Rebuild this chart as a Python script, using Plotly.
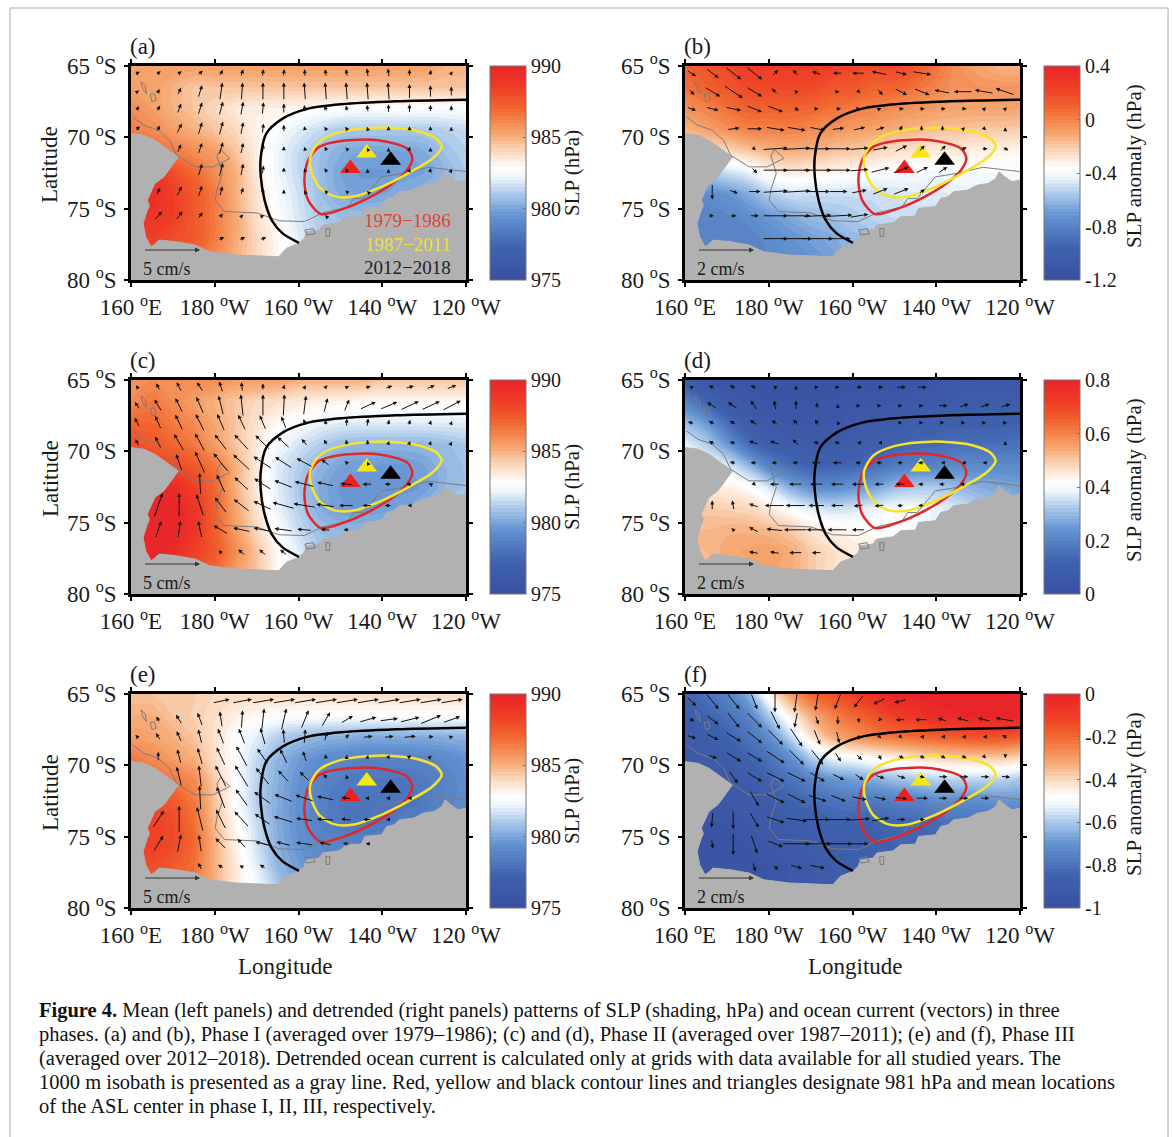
import plotly.graph_objects as go

W, H = 1173, 1137
SERIF = "Liberation Serif"

LON = [160, 165, 170, 175, 180, 185, 190, 195, 200, 205, 210, 215, 220, 225, 230, 235, 240]
LAT = [-65, -66.5, -68, -69.5, -71, -72.5, -74, -75.5, -77, -78.5, -80]

Z_A = [
 [985.5,985.5,985.5,985.5,985.5,985.5,985.5,985.5,985.5,985.5,985.5,985.5,985.5,985.5,985.5,985,985],
 [985.5,985.5,985,984.5,984.5,984.5,984.5,984.5,984.5,984.5,984.5,984.5,984.5,984.5,984.5,984.5,984.5],
 [986,985.5,985,984.5,984,983.5,983.3,983.2,983,982.8,982.7,982.6,982.6,982.7,982.6,982.6,982.6],
 [986.5,986,985.5,985,984.5,984,983.2,982.6,982,981.5,981,981,981,981,981,981.2,981.5],
 [987.5,987,986.5,986,985.5,984.5,983.3,982.3,981.5,980.8,980.3,980,980,980,980.2,980.8,981.2],
 [989,989,988,987,986,985,983.5,982.3,981.5,980.7,980,979.7,979.7,979.8,980,980.5,981],
 [989.5,989.5,988.5,987.5,986.5,985,983.7,982.5,981.7,980.8,980.2,979.9,980,980.3,980.5,981,981],
 [989,989,988.5,987.5,986.5,985.2,983.8,982.7,981.8,981,980.7,980.7,980.8,981,981,981,981],
 [988.5,988.5,988,987.5,986.5,985.2,984,983,982,981.3,981,981,981,981,981,981,981],
 [988,988,987.5,987,986,985,984,983,982,981.5,981,981,981,981,981,981,981],
 [988,988,987.5,987,986,985,984,983,982,981.5,981,981,981,981,981,981,981],
]
Z_C = [
 [986,986,986,986,986,985.5,985.5,985.5,985,985,985,985,984.5,984.5,984.5,984.5,984.5],
 [986,986.5,986,985.5,985,984.5,984,983.8,983.5,983.3,983.2,983,983,983,983,983,983],
 [987,987,986.5,986,985.2,984.5,983.7,983,982.5,982.2,982,982,982,982,982,982,982],
 [988,987.5,987,986.5,985.5,984.5,983.5,982.5,981.8,981.2,980.7,980.5,980.5,980.5,980.5,980.7,981],
 [989,988.5,988,987.5,986.5,985,983.5,982,981.2,980.5,980,979.8,979.7,979.7,980,980.5,980.8],
 [990,990,989.5,988.5,987,985,983.5,982,981,980.2,979.7,979.5,979.5,979.6,979.8,980.5,980.8],
 [990,990,990,989,987.2,985.3,983.7,982.2,981.2,980.3,979.8,979.7,979.8,980,980.5,981,981],
 [990,990,990,989,987.3,985.5,984,982.7,981.5,980.7,980.5,980.5,980.7,981,981,981,981],
 [990,990,989.5,988.5,987.5,986,984.5,983,982,981,981,981,981,981,981,981,981],
 [989.5,989.5,989,988,987,985.5,984.5,983,982,981,981,981,981,981,981,981,981],
 [989.5,989.5,989,988,987,985.5,984.5,983,982,981,981,981,981,981,981,981,981],
]
Z_E = [
 [984.5,984.5,984.5,984.3,984,984,984,984,984,984,984,984,984,984,984,984,984],
 [985,985,984.5,984.2,983.8,983.3,983,982.8,982.7,982.7,982.7,982.7,982.7,982.7,982.7,982.7,982.7],
 [985.5,985.3,985,984.5,983.7,982.8,982,981.2,980.8,980.5,980.4,980.2,980.2,980.2,980.2,980.3,980.4],
 [986.5,986,985.5,985,983.8,982.7,981.5,980.5,979.8,979.3,979,978.8,978.8,978.8,978.9,979.1,979.5],
 [987.5,987,986.5,986,984.3,982.7,981.3,980.3,979.5,978.9,978.5,978.3,978.2,978.2,978.4,978.8,979.2],
 [988,988,987.5,986.5,984.5,982.7,981.2,980.2,979.4,978.7,978.2,978,978,978.1,978.3,978.8,979.2],
 [988.5,988.5,988,986.8,984.7,983,981.5,980.2,979.4,978.7,978.3,978.1,978.2,978.4,978.7,979,979.3],
 [988.5,988.5,988,987,985,983.2,981.7,980.3,979.5,979,978.8,978.8,979,979,979,979,979],
 [988,988,987.5,986.8,985,983.5,982,980.5,979.8,979.2,979,979,979,979,979,979,979],
 [987.5,987.5,987,986.5,985,983.5,982.5,981,980,979.5,979,979,979,979,979,979,979],
 [987.5,987.5,987,986.5,985,983.5,982.5,981,980,979.5,979,979,979,979,979,979,979],
]
Z_B = [
 [.1,.15,.2,.25,.25,.25,.25,.25,.2,.2,.2,.15,.05,-.05,-.1,-.15,-.15],
 [.05,.1,.15,.2,.2,.2,.2,.15,.15,.1,.1,.05,0,-.05,-.05,-.05,-.05],
 [-.05,0,.05,.1,.1,.1,.08,.05,.02,0,-.03,-.06,-.08,-.1,-.1,-.1,-.1],
 [-.15,-.1,-.05,0,0,0,-.02,-.05,-.08,-.1,-.13,-.15,-.18,-.18,-.2,-.2,-.22],
 [-.3,-.28,-.25,-.2,-.15,-.13,-.15,-.18,-.2,-.23,-.26,-.28,-.3,-.3,-.32,-.33,-.34],
 [-.55,-.55,-.5,-.45,-.35,-.3,-.32,-.34,-.36,-.38,-.4,-.4,-.42,-.4,-.4,-.4,-.4],
 [-.75,-.75,-.72,-.65,-.55,-.5,-.5,-.5,-.5,-.5,-.48,-.46,-.46,-.45,-.45,-.45,-.45],
 [-.78,-.8,-.78,-.75,-.7,-.65,-.6,-.58,-.55,-.52,-.5,-.5,-.5,-.5,-.5,-.5,-.5],
 [-.8,-.8,-.8,-.8,-.75,-.72,-.68,-.65,-.6,-.58,-.55,-.55,-.55,-.55,-.55,-.55,-.55],
 [-.8,-.8,-.8,-.8,-.78,-.75,-.72,-.68,-.62,-.6,-.55,-.55,-.55,-.55,-.55,-.55,-.55],
 [-.8,-.8,-.8,-.8,-.78,-.75,-.72,-.68,-.62,-.6,-.55,-.55,-.55,-.55,-.55,-.55,-.55],
]
Z_D = [
 [.1,.05,.03,.03,.03,.03,.03,.03,.03,.03,.03,.03,.04,.05,.05,.05,.05],
 [.2,.12,.07,.05,.04,.04,.04,.04,.05,.05,.05,.06,.07,.08,.08,.08,.08],
 [.3,.25,.15,.08,.06,.05,.05,.05,.06,.07,.08,.09,.1,.11,.11,.11,.12],
 [.38,.33,.25,.15,.1,.08,.07,.07,.08,.1,.12,.13,.14,.15,.15,.15,.16],
 [.42,.4,.37,.3,.2,.15,.12,.12,.13,.15,.18,.2,.2,.22,.22,.22,.22],
 [.46,.45,.44,.42,.36,.28,.23,.22,.24,.26,.3,.32,.32,.3,.28,.27,.26],
 [.49,.5,.49,.48,.45,.41,.37,.35,.36,.38,.4,.4,.38,.36,.33,.3,.28],
 [.52,.52,.53,.53,.52,.5,.46,.44,.43,.42,.41,.4,.38,.36,.33,.3,.28],
 [.52,.52,.54,.55,.56,.54,.5,.47,.45,.44,.42,.4,.38,.36,.33,.3,.28],
 [.51,.51,.53,.54,.55,.54,.5,.47,.45,.44,.42,.4,.38,.36,.33,.3,.28],
 [.51,.51,.53,.54,.55,.54,.5,.47,.45,.44,.42,.4,.38,.36,.33,.3,.28],
]
Z_F = [
 [-.85,-.8,-.75,-.65,-.45,-.3,-.2,-.15,-.1,-.05,0,0,0,0,0,0,0],
 [-.9,-.85,-.8,-.75,-.6,-.45,-.33,-.25,-.2,-.15,-.1,-.07,-.03,-.02,0,0,0],
 [-.9,-.9,-.85,-.8,-.72,-.58,-.43,-.33,-.28,-.25,-.22,-.2,-.18,-.17,-.15,-.15,-.17],
 [-.93,-.9,-.9,-.85,-.8,-.72,-.6,-.52,-.5,-.47,-.45,-.42,-.4,-.38,-.38,-.38,-.4],
 [-.93,-.93,-.92,-.9,-.85,-.8,-.75,-.7,-.68,-.65,-.62,-.6,-.58,-.58,-.58,-.58,-.6],
 [-.93,-.93,-.93,-.92,-.9,-.85,-.82,-.8,-.78,-.78,-.76,-.75,-.72,-.72,-.72,-.7,-.7],
 [-.95,-.95,-.95,-.93,-.92,-.9,-.88,-.86,-.85,-.85,-.84,-.83,-.82,-.8,-.8,-.8,-.8],
 [-.95,-.95,-.95,-.95,-.93,-.92,-.9,-.88,-.87,-.87,-.85,-.85,-.85,-.85,-.85,-.85,-.85],
 [-.95,-.95,-.95,-.95,-.95,-.93,-.92,-.9,-.88,-.87,-.85,-.85,-.85,-.85,-.85,-.85,-.85],
 [-.95,-.95,-.95,-.95,-.95,-.93,-.92,-.9,-.88,-.87,-.85,-.85,-.85,-.85,-.85,-.85,-.85],
 [-.95,-.95,-.95,-.95,-.95,-.93,-.92,-.9,-.88,-.87,-.85,-.85,-.85,-.85,-.85,-.85,-.85],
]

ARROW_LON = [161.5,166.5,171.5,176.5,181.5,186.5,191.5,196.5,201.5,206.5,211.5,216.5,221.5,226.5,231.5,236.5]
ARROW_LAT = [-65.5,-66.8,-68,-69.4,-70.8,-72.3,-73.8,-75.5,-77.1]

# current components, mm/s
U_A = [[4,4,4,4,3,2,1,1,0,-1,-1,-1,-1,0,1,2],[3,2,3,3,2,1,0,0,-1,-1,-1,-1,-1,0,0,0],[3,3,3,3,3,2,1,0,-1,-2,-1,-1,0,0,0,0],
 [4,3,4,3,3,2,1,0,-1,-2,-2,-1,0,0,0,0],[0,0,3,3,3,2,1,0,-1,-2,-2,-1,0,1,0,0],[0,0,0,3,3,2,1,0,-1,-2,-1,0,0,1,1,1],
 [0,3,4,3,2,2,1,0,-1,-2,-2,-1,0,0,0,0],[0,6,5,4,3,2,2,1,0,-1,0,0,0,0,0,0],[0,0,0,0,5,5,5,0,0,0,0,0,0,0,0,0]]
V_A = [[2,3,3,4,5,6,6,6,6,6,6,7,7,6,5,3],[2,4,6,10,14,14,14,14,14,14,14,14,14,12,10,8],[4,5,8,10,11,11,10,8,6,5,5,6,7,7,6,5],
 [4,5,8,10,11,10,8,6,4,3,3,3,4,4,4,3],[0,0,7,9,10,9,7,4,3,3,2,2,2,3,2,1],[0,0,0,10,11,10,7,4,3,3,3,2,2,3,3,2],
 [0,6,8,9,8,6,5,3,2,2,2,1,1,1,0,0],[0,7,7,5,3,2,1,1,1,1,0,0,0,0,0,0],[0,0,0,0,2,2,2,0,0,0,0,0,0,0,0,0]]
U_B = [[3,4,5,5,2,-2,-3,-3,-4,-5,4,6,0,0,0,0],[2,5,6,5,-2,-1,0,1,1,2,4,5,-5,-6,-6,-6],[3,4,5,5,5,2,1,2,1,1,2,2,2,2,1,1],
 [0,0,4,5,6,6,5,4,4,3,1,0,0,1,1,0],[0,0,0,1,8,9,8,8,6,5,4,2,2,2,2,2],[0,0,0,2,8,9,9,8,6,6,5,4,3,0,0,0],
 [0,0,3,4,8,9,8,6,5,5,5,2,0,0,0,0],[0,1,2,3,8,9,9,9,6,0,0,0,0,0,0,0],[0,0,0,0,8,10,10,8,0,0,0,0,0,0,0,0]]
V_B = [[-2,-3,-4,-4,2,2,1,0,0,1,-1,-1,0,0,0,0],[-2,-3,-4,-3,2,1,0,0,-1,-2,-2,-2,1,0,1,2],[-1,-1,-1,-2,-2,-1,0,0,0,.5,0,0,0,0,1,1],
 [0,0,.5,0,-1,-1,-1,.5,1,1,2,2,2,1,-1,1],[0,0,0,-1,.5,.5,0,0,.5,1,2,2,2,1,0,-1],[0,0,0,-2,0,0,0,0,.5,1.5,2,2,2,0,0,0],
 [0,-5,-1,0,.5,.5,0,0,1,2,2,1.5,0,0,0,0],[0,0,0,0,0,0,.5,.5,1,0,0,0,0,0,0,0],[0,0,0,0,0,0,0,0,0,0,0,0,0,0,0,0]]
U_C = [[-2,-3,-4,-5,-3,-1,0,1,2,3,4,5,6,7,7,8],[-4,-6,-6,-6,-4,-2,0,1,2,3,4,13,14,15,15,15],[-4,-5,-6,-7,-6,-6,-5,-4,-2,-1,0,1,1,1,1,1],
 [-3,-5,-8,-8,-10,-12,-12,-10,-5,-3,-1,0,1,1,1,1],[0,0,-5,-8,-12,-14,-15,-14,-13,-7,-3,-1,0,1,1,0],[0,0,0,-1,-7,-12,-14,-15,-16,-14,-10,-8,-6,-5,-3,0],
 [0,7,0,-6,-10,-13,-15,-18,-18,-15,-12,-8,-6,-3,0,0],[0,5,2,-3,-12,-14,-15,-15,-12,-8,-5,0,0,0,0,0],[0,0,0,0,-4,-6,-6,-6,0,0,0,0,0,0,0,0]]
V_C = [[3,6,8,8,9,8,6,4,3,3,2,2,2,2,3,3],[6,10,12,14,16,18,18,18,16,12,10,6,6,7,7,8],[8,11,13,14,14,13,12,10,6,5,7,7,5,5,4,3],
 [6,10,14,15,13,13,12,9,6,5,5,5,3,3,3,2],[0,0,14,18,15,13,10,9,7,5,3,2,2,0,0,0],[0,0,0,18,15,11,9,6,4,3,1,0,0,0,1,0],
 [0,20,20,18,13,10,7,5,3,2,0,0,0,0,0,0],[0,14,14,14,7,3,3,2,1,1,0,0,0,0,0,0],[0,0,0,0,4,5,5,5,0,0,0,0,0,0,0,0]]
U_D = [[-1,-2,-2,-2,-1,0,1,1,2,2,3,3,0,0,0,0],[0,-3,-3,-2,-.5,0,0,0,1,1,1,1,3,3,3,3],[-2,-2,-2,-2.5,-2,-1.5,-1,-.5,0,0,1,1,1,1,1,1],
 [0,-2,-2,-3,-3,-2,-2,-2,-1,-1,0,0,0,0,0,0],[0,0,-2,-2,-2,-2,-3,-3,-2,-2,-2,-2,-1,-1,-1,0],[0,0,0,1,-3,-4,-4,-4,-4,-3,-3,-2,-2,-2,0,0],
 [0,0,-.5,-3,-6,-6,-5,-4,-3,-3,-2,-2,0,0,0,0],[0,0,-1,-3,-5,-7,-6,-6,-4,0,0,0,0,0,0,0],[0,0,0,-3,-3,-4,-3,0,0,0,0,0,0,0,0,0]]
V_D = [[1,1,1,1,1,1,0,0,0,0,0,0,0,0,0,0],[0,2,2,3,3,3,2,1,0,0,0,0,0,1,1,1],[.5,1,1,1.5,1.5,2,2,1,.5,.5,0,0,0,0,0,0],
 [0,1,.5,1,1,2,.5,.5,0,0,0,0,0,0,0,1],[0,0,.5,0,0,0,0,0,0,0,0,0,0,0,0,0],[0,0,0,-1,0,0,0,0,0,0,0,0,0,0,0,0],
 [0,3,3,1,0,0,0,0,-.3,-.3,-.3,0,0,0,0,0],[0,.5,1,1.5,.5,0,0,0,0,0,0,0,0,0,0,0],[0,0,0,.5,.5,0,0,0,0,0,0,0,0,0,0,0]]
U_E = [[0,0,0,0,14,16,18,18,18,18,18,18,18,18,18,18],[0,-3,-5,-4,-2,1,2,4,6,7,10,14,15,16,17,14],[-3,-4,-4,-3,-5,-5,-4,-1,1,2,4,8,8,10,5,3],
 [0,0,-3,-4,-7,-9,-9,-6,-3,-1,0,1,2,3,2,1],[0,0,-4,-2,-9,-11,-11,-9,-8,-4,-1,0,0,1,1,1],[0,0,0,-1,-7,-10,-14,-15,-15,-14,-8,-4,-4,-3,-2,1],
 [0,9,0,-5,-8,-12,-13,-16,-14,-14,-9,-7,-4,-2,0,0],[0,8,3,-2,-9,-7,-12,-12,-14,-10,-6,-3,0,0,0,0],[0,0,0,-3,-5,-4,-5,0,0,0,0,0,0,0,0,0]]
V_E = [[0,0,0,0,3,3,3,3,3,3,3,3,3,3,3,3],[0,5,8,11,13,15,18,18,15,12,6,4,2,4,7,5],[3,6,9,12,13,13,14,12,12,8,4,1,1,1,1,1],
 [0,8,12,14,15,17,13,12,9,4,3,3,3,2,2,1],[0,0,16,18,18,18,14,10,8,4,3,1,1,1,1,0],[0,0,0,20,18,14,10,6,5,3,1,0,0,0,0,0],
 [0,14,22,20,16,13,9,5,2,1,1,0,0,0,0,0],[0,13,15,14,9,8,3,3,2,2,1,0,0,0,0,0],[0,0,0,6,3,2,3,0,0,0,0,0,0,0,0,0]]
U_F = [[3,4,4,2,0,-1,-1,-2,-3,-4,-4,0,0,0,0,0],[2,4,4,5,3,-1,1,0,0,-1,-3,-4,-3,-4,-4,-6],[3,4,5,5,5,4,2,1,0,1,1,-1,-1,-1,-1,-2],
 [0,3,5,5,6,5,4,2,2,1,2,2,2,2,1,0],[0,0,3,5,6,6,5,4,3,3,3,2,3,3,3,3],[0,0,0,3,6,6,6,5,5,4,4,4,3,3,3,0],
 [0,-.5,0,3,6,7,8,8,7,6,3,2,0,0,0,0],[0,.5,0,2,5,9,9,9,6,0,0,0,0,0,0,0],[0,0,0,1,2,4,5,0,0,0,0,0,0,0,0,0]]
V_F = [[-3,-5,-5,-5,-7,-7,-6,-5,-4,-2,-1,0,0,0,0,0],[-1,-3,-5,-5,-6,-5,-3,-3,-2,-1,0,0,1,1,1,1],[-1,-2,-3,-4,-5,-6,-5,-4,-2,-1,-1,0,0,0,0,1],
 [0,-1,-3,-3,-4,-5,-5,-3,-2,-2,-1,-1,-1,-1,-1,-1],[0,0,-4,-3,-3,-3,-3,-2,-2,-1,-1,-.5,0,0,0,-.3],[0,0,0,-5,-3,-3,-2,-2,-1,-1,-.5,0,0,0,0,0],
 [0,-5,-6,-5,-2,-1,0,0,.5,1,0,0,0,0,0,0],[0,-3,-7,-6,-2,0,0,0,0,0,0,0,0,0,0,0],[0,0,0,-3,-2,-1,-1,0,0,0,0,0,0,0,0,0]]

LAND_LON = [160,163.05,165.7,168.7,171.3,169.6,167.85,165.7,163.9,164.4,163.9,162.9,163.5,164.8,165.6,166.7,170.9,175.3,178.8,184.9,195.3,197.1,200.1,201.4,201.9,204.9,205.8,209.7,211.5,215,215.8,219.8,221.1,222.8,224.1,227.6,229.8,232.4,234.2,235,236.4,238.1,240,240,160,160]
LAND_LAT = [-69.74,-69.85,-70.2,-70.8,-71.37,-72.07,-72.77,-73.23,-74.4,-74.8,-75.1,-76.03,-76.97,-77.67,-77.5,-77.2,-77.32,-77.55,-78.02,-78.25,-78.37,-77.78,-77.43,-77.08,-76.62,-76.5,-76.15,-75.99,-75.57,-75.52,-74.98,-74.87,-74.28,-74.17,-73.82,-73.7,-73.35,-73.23,-72.88,-72.42,-72.77,-73.12,-73,-80,-80,-69.74]
ISO_LON = [160.4,163.05,166.5,169.2,170.9,175.3,179.6,183.6,181.4,180.5,181.8,180.5,180.1,182.3,190.1,195.3,201.4,205.8,211.9,213.2,215.4,219.8,225,231.1,240]
ISO_LAT = [-68.57,-69.15,-69.5,-70.2,-71.25,-72.07,-72.07,-71.48,-70.85,-71.3,-72.53,-73.7,-74.4,-75.2,-75.3,-75.85,-75.9,-75.3,-74.87,-74.28,-74.3,-72.77,-72.53,-72.1,-72.4]
ISLE1_LON = [162.4,163.4,163.7,162.8,162.4]
ISLE1_LAT = [-66.1,-66.4,-66.95,-66.6,-66.1]
ISLE2_LON = [164.6,165.6,166,165,164.6]
ISLE2_LAT = [-67,-66.95,-67.4,-67.5,-67]
ISLE3_LON = [201.5,203.5,204,202,201.5]
ISLE3_LAT = [-76.5,-76.4,-76.75,-76.85,-76.5]
ISLE4_LON = [206.5,207.5,207.4,206.6,206.5]
ISLE4_LAT = [-76.4,-76.4,-76.95,-76.95,-76.4]

BLACK_LON = [200.1,196.2,193.6,191.9,191,191,192.3,196.2,202.3,210.2,223.3,240]
BLACK_LAT = [-77.39,-76.73,-75.8,-74.4,-72.77,-71.37,-69.74,-68.69,-67.99,-67.68,-67.47,-67.36]
RED_LON = [205.4,202.3,201.4,202.3,204.9,210.2,218.9,225.9,227.2,225.9,222.4,217.2,211,205.4]
RED_LAT = [-75.38,-74.4,-73,-71.6,-70.67,-70.25,-70.2,-70.78,-71.48,-72.3,-73.23,-74.17,-74.98,-75.38]
YEL_LON = [202.8,204.9,210.2,218.9,227.6,232.9,234.2,232,226.8,219.8,212.8,208.4,204.9,203,202.8]
YEL_LAT = [-71.37,-70.32,-69.62,-69.32,-69.5,-70.08,-70.67,-71.48,-72.42,-73.47,-74.17,-74.12,-73.47,-72.3,-71.37]
TRI_LON = [212.4, 216.3, 222]
TRI_LAT = [-72.18, -71.09, -71.6]
TRI_COL = ["#f0201c", "#f5e61a", "#000000"]

X_TICKS = [160, 180, 200, 220, 240]
X_LABELS = ["160 <sup>o</sup>E", "180 <sup>o</sup>W", "160 <sup>o</sup>W", "140 <sup>o</sup>W", "120 <sup>o</sup>W"]
Y_TICKS = [-65, -70, -75, -80]
Y_LABELS = ["65 <sup>o</sup>S", "70 <sup>o</sup>S", "75 <sup>o</sup>S", "80 <sup>o</sup>S"]
SLP_TICKS = [975, 980, 985, 990]

CAPTION = [
 "<b>Figure 4.</b> Mean (left panels) and detrended (right panels) patterns of SLP (shading, hPa) and ocean current (vectors) in three",
 "phases. (a) and (b), Phase I (averaged over 1979–1986); (c) and (d), Phase II (averaged over 1987–2011); (e) and (f), Phase III",
 "(averaged over 2012–2018). Detrended ocean current is calculated only at grids with data available for all studied years. The",
 "1000 m isobath is presented as a gray line. Red, yellow and black contour lines and triangles designate 981 hPa and mean locations",
 "of the ASL center in phase I, II, III, respectively.",
]

COLORS = [[0,"#3a50a2"],[.15,"#3f62ae"],[.3,"#6393d1"],[.4,"#a9c8ea"],[.48,"#eef5fb"],[.52,"#ffffff"],[.6,"#fbd9bf"],[.68,"#f6a872"],[.8,"#f1672f"],[.9,"#ee3d26"],[1,"#e8242a"]]
LAND = "#b1b1b1"
TXT = "#1a1a1a"

PANELS = [
 dict(tag="(a)", z=Z_A, u=U_A, v=V_A, left=131, top=66, rng=(975,990), ticks=SLP_TICKS, lab=None, title="SLP (hPa)", px=1.3, scale="5 cm/s"),
 dict(tag="(b)", z=Z_B, u=U_B, v=V_B, left=685, top=66, rng=(-1.2,.4), ticks=[-1.2,-.8,-.4,0,.4], lab=["-1.2","-0.8","-0.4","0","0.4"], title="SLP anomaly (hPa)", px=3.2, scale="2 cm/s"),
 dict(tag="(c)", z=Z_C, u=U_C, v=V_C, left=131, top=380, rng=(975,990), ticks=SLP_TICKS, lab=None, title="SLP (hPa)", px=1.25, scale="5 cm/s"),
 dict(tag="(d)", z=Z_D, u=U_D, v=V_D, left=685, top=380, rng=(0,.8), ticks=[0,.2,.4,.6,.8], lab=["0","0.2","0.4","0.6","0.8"], title="SLP anomaly (hPa)", px=3.4, scale="2 cm/s"),
 dict(tag="(e)", z=Z_E, u=U_E, v=V_E, left=131, top=694, rng=(975,990), ticks=SLP_TICKS, lab=None, title="SLP (hPa)", px=1.25, scale="5 cm/s"),
 dict(tag="(f)", z=Z_F, u=U_F, v=V_F, left=685, top=694, rng=(-1,0), ticks=[-1,-.8,-.6,-.4,-.2,0], lab=["-1","-0.8","-0.6","-0.4","-0.2","0"], title="SLP anomaly (hPa)", px=3.2, scale="2 cm/s"),
]
PW, PH = 335, 214
PX_LON, PX_LAT = PW / 80, PH / 15

fig = go.Figure()
anns, layout_axes = [], {}

def paper(x, y):
    return x / W, 1 - y / H

def label(x, y, text, size=22, angle=0, anchor="center"):
    px_, py_ = paper(x, y)
    anns.append(dict(x=px_, y=py_, xref="paper", yref="paper", xanchor=anchor, yanchor="middle", text=text, textangle=angle, showarrow=False,
                     font=dict(family=SERIF, size=size, color=TXT)))

for i, p in enumerate(PANELS, 1):
    s = "" if i == 1 else str(i)
    xa, ya = "x" + s, "y" + s
    L, T = p["left"], p["top"]
    lo, hi = p["rng"]
    right_col = i % 2 == 0
    layout_axes["xaxis" + s] = dict(domain=[L / W, (L + PW) / W], range=[160, 240], anchor=ya, tickvals=X_TICKS, ticktext=X_LABELS,
        ticks="outside", ticklen=4, tickwidth=2, tickcolor="#000", showline=True, linewidth=2.5, linecolor="#000", mirror="ticks",
        showgrid=False, zeroline=False, tickfont=dict(family=SERIF, size=23, color=TXT), ticklabelstandoff=1)
    layout_axes["yaxis" + s] = dict(domain=[1 - (T + PH) / H, 1 - T / H], range=[-80, -65], anchor=xa, tickvals=Y_TICKS, ticktext=Y_LABELS,
        ticks="outside", ticklen=4, tickwidth=2, tickcolor="#000", showline=True, linewidth=2.5, linecolor="#000", mirror="ticks",
        showgrid=False, zeroline=False, tickfont=dict(family=SERIF, size=23, color=TXT), ticklabelstandoff=3)
    cb = dict(x=(L + 359) / W, xanchor="left", y=1 - T / H, yanchor="top", lenmode="pixels", len=PH, thicknessmode="pixels", thickness=36,
        xpad=0, ypad=0, outlinecolor="#777", outlinewidth=1, ticks="inside", ticklen=3, tickcolor="#777", tickvals=p["ticks"],
        tickfont=dict(family=SERIF, size=20, color=TXT))
    if p["lab"]:
        cb["ticktext"] = p["lab"]
    fig.add_trace(go.Contour(x=LON, y=LAT, z=p["z"], xaxis=xa, yaxis=ya, colorscale=COLORS, zmin=lo, zmax=hi, autocontour=False,
        contours=dict(start=lo, end=hi, size=(hi - lo) / 60, coloring="fill", showlines=False), line=dict(width=0, smoothing=1), colorbar=cb, hoverinfo="skip"))
    fig.add_trace(go.Scatter(x=LAND_LON, y=LAND_LAT, xaxis=xa, yaxis=ya, mode="lines", fill="toself", fillcolor=LAND, line=dict(color=LAND, width=1), hoverinfo="skip"))
    for lx, ly in [(ISO_LON, ISO_LAT), (ISLE1_LON, ISLE1_LAT), (ISLE2_LON, ISLE2_LAT), (ISLE3_LON, ISLE3_LAT), (ISLE4_LON, ISLE4_LAT)]:
        fig.add_trace(go.Scatter(x=lx, y=ly, xaxis=xa, yaxis=ya, mode="lines", line=dict(color="#7c7c7c", width=1), hoverinfo="skip"))
    for lx, ly, col in [(BLACK_LON, BLACK_LAT, "#000000"), (RED_LON, RED_LAT, "#e0282a"), (YEL_LON, YEL_LAT, "#f5e42a")]:
        fig.add_trace(go.Scatter(x=lx, y=ly, xaxis=xa, yaxis=ya, mode="lines", line=dict(color=col, width=2.5, shape="spline", smoothing=0.8), hoverinfo="skip"))
    fig.add_trace(go.Scatter(x=TRI_LON, y=TRI_LAT, xaxis=xa, yaxis=ya, mode="markers", marker=dict(symbol="triangle-up", size=18, color=TRI_COL, line=dict(width=0)), hoverinfo="skip"))

    k = p["px"]
    for r, la in enumerate(ARROW_LAT):
        for c, lon in enumerate(ARROW_LON):
            u, v = p["u"][r][c], p["v"][r][c]
            if u == 0 and v == 0:
                continue
            dlon, dlat = u * k / PX_LON / 2, v * k / PX_LAT / 2
            anns.append(dict(x=lon + dlon, y=la + dlat, ax=lon - dlon, ay=la - dlat, xref=xa, yref=ya, axref=xa, ayref=ya, text="", showarrow=True,
                arrowhead=2, arrowsize=0.8, arrowwidth=1, arrowcolor="#111"))
    anns.append(dict(x=176.5, y=-77.9, ax=163, ay=-77.9, xref=xa, yref=ya, axref=xa, ayref=ya, text="", showarrow=True, arrowhead=2, arrowsize=1, arrowwidth=1, arrowcolor="#333"))
    anns.append(dict(x=162.3, y=-79.2, xref=xa, yref=ya, xanchor="left", yanchor="middle", text=p["scale"], showarrow=False, font=dict(family=SERIF, size=18, color=TXT)))
    label(L - 3, T - 20, p["tag"], size=23, anchor="left")
    label(L + (449 if right_col else 441), T + 100 if right_col else T + 107, p["title"], size=21, angle=-90)
    if not right_col:
        label(50, T + 99, "Latitude", size=23, angle=-90)
    if i >= 5:
        label(L + (170 if right_col else 154), 966, "Longitude", size=23)

for txt, la, col in [("1979−1986", -75.85, "#e0433a"), ("1987−2011", -77.5, "#ece13c"), ("2012−2018", -79.15, "#222222")]:
    anns.append(dict(x=237, y=la, xref="x", yref="y", xanchor="right", text=txt, showarrow=False, font=dict(family=SERIF, size=19, color=col)))

for n, line in enumerate(CAPTION):
    px_, py_ = paper(37, 1010 + n * 24)
    anns.append(dict(x=px_, y=py_, xref="paper", yref="paper", xanchor="left", yanchor="middle", text=line, showarrow=False, font=dict(family=SERIF, size=20.5, color="#111")))

x0, y0 = paper(10, 8)
x1, y1 = paper(1168, 1137)
shapes = [dict(type="line", xref="paper", yref="paper", x0=a, y0=b, x1=c, y1=d, line=dict(color="#c8c8c8", width=1.5))
          for a, b, c, d in [(x0, y0, x1, y0), (x0, y0, x0, y1), (x1, y0, x1, y1)]]

fig.update_layout(width=W, height=H, margin=dict(l=0, r=0, t=0, b=0, autoexpand=False), autosize=False, paper_bgcolor="white", plot_bgcolor="white",
    showlegend=False, annotations=anns, shapes=shapes, **layout_axes)
fig.write_html("out.html", config=dict(displayModeBar=False), post_script="document.body.style.margin='0';document.body.style.overflow='hidden';")
